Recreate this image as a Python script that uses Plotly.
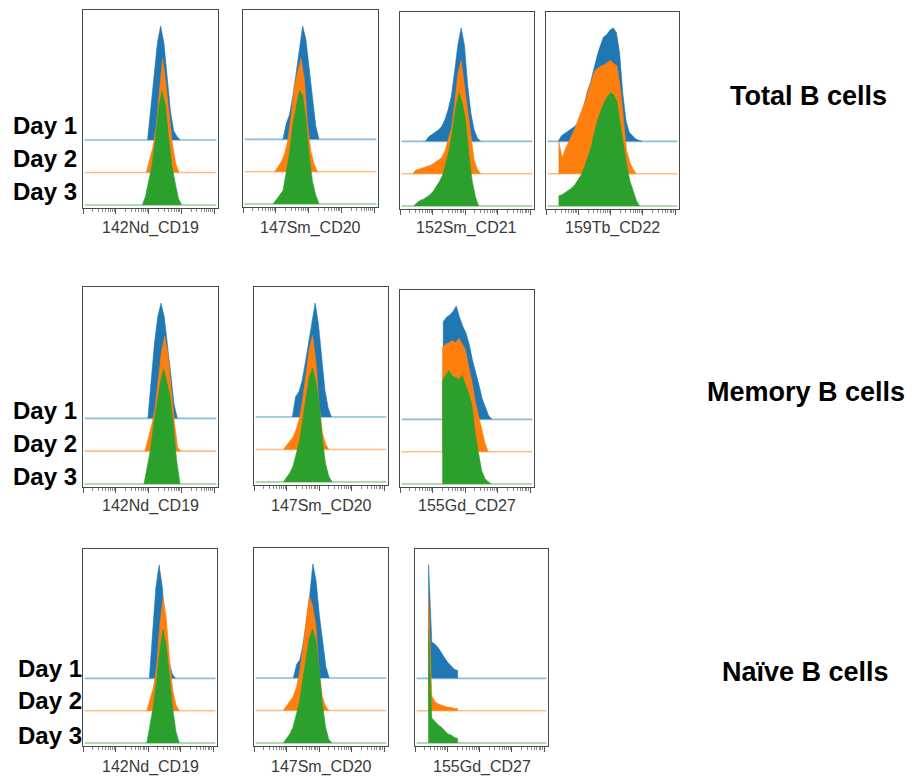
import plotly.graph_objects as go

# ---------------- data ----------------
STEP = 0.1  # bin width on the (log-decade) intensity axis
X_RANGE = [0.0, 4.12]
DAYS = ["Day 1", "Day 2", "Day 3"]
POPULATIONS = ["Total B cells", "Memory B cells", "Naïve B cells"]
MARKERS_TOTAL = ["142Nd_CD19", "147Sm_CD20", "152Sm_CD21", "159Tb_CD22"]
MARKERS_MEMORY = ["142Nd_CD19", "147Sm_CD20", "155Gd_CD27"]
MARKERS_NAIVE = ["142Nd_CD19", "147Sm_CD20", "155Gd_CD27"]

# histogram heights (% of mode); first bin starts at the matching *_X0 value
T_CD19_X0 = [1.97, 1.93, 1.81]
T_CD19_D1 = [0, 30, 58, 85, 100, 85, 55, 25, 8, 3, 0]
T_CD19_D2 = [0, 10, 22, 40, 68, 100, 78, 50, 25, 8, 0]
T_CD19_D3 = [0, 8, 22, 35, 58, 85, 100, 88, 60, 35, 20, 6, 0]

T_CD20_X0 = [1.22, 0.97, 0.92]
T_CD20_D1 = [0, 14, 22, 38, 58, 80, 100, 88, 62, 36, 12, 0]
T_CD20_D2 = [0, 4, 9, 16, 28, 50, 75, 88, 100, 82, 42, 18, 7, 0]
T_CD20_D3 = [0, 4, 8, 12, 28, 45, 70, 85, 100, 96, 75, 42, 20, 8, 0]

T_CD21_X0 = [0.78, 0.38, 0.42]
T_CD21_D1 = [0, 4, 6, 8, 10, 13, 19, 28, 40, 62, 85, 100, 85, 50, 25, 10, 3, 0]
T_CD21_D2 = [0, 3, 4, 5, 6, 7, 8, 10, 12, 14, 20, 30, 40, 62, 88, 100, 78, 55, 35, 12, 4, 0]
T_CD21_D3 = [0, 3, 5, 6, 8, 10, 13, 17, 22, 28, 38, 50, 68, 88, 100, 90, 75, 45, 22, 8, 0]

T_CD22_X0 = [0.38, 0.40, 0.40]
T_CD22_D1 = [0, 5, 7, 9, 11, 13, 16, 22, 32, 44, 52, 64, 75, 84, 92, 94, 98, 100, 96, 78, 42, 18, 8, 5, 2, 1, 0]
T_CD22_D2 = [28, 14, 22, 28, 34, 40, 48, 55, 63, 72, 82, 90, 93, 95, 96, 98, 100, 97, 95, 76, 45, 20, 10, 4, 0]
T_CD22_D3 = [9, 10, 12, 14, 16, 19, 23, 28, 35, 43, 52, 65, 76, 84, 91, 96, 100, 98, 92, 72, 52, 36, 22, 13, 5, 0]

M_CD19_X0 = [1.98, 1.89, 1.86]
M_CD19_D1 = [0, 35, 65, 88, 100, 88, 65, 38, 12, 0]
M_CD19_D2 = [0, 10, 22, 36, 62, 85, 100, 85, 55, 25, 3, 0]
M_CD19_D3 = [0, 14, 30, 52, 72, 88, 100, 88, 76, 50, 20, 0]

M_CD20_X0 = [1.18, 0.90, 0.90]
M_CD20_D1 = [0, 18, 22, 32, 48, 66, 85, 100, 82, 52, 24, 8, 0]
M_CD20_D2 = [0, 4, 7, 11, 18, 28, 45, 68, 88, 100, 78, 40, 15, 5, 0]
M_CD20_D3 = [0, 4, 8, 14, 25, 36, 55, 75, 92, 100, 88, 70, 38, 16, 5, 0]

M_CD27_X0 = [1.33, 1.31, 1.31]
M_CD27_D1 = [86, 90, 92, 95, 100, 90, 82, 76, 66, 52, 42, 30, 18, 10, 3, 0]
M_CD27_D2 = [92, 95, 96, 98, 96, 100, 95, 90, 75, 62, 45, 32, 18, 8, 0]
M_CD27_D3 = [92, 96, 100, 95, 94, 92, 96, 88, 80, 70, 45, 28, 12, 5, 2, 0]

N_CD19_X0 = [2.04, 1.96, 1.96]
N_CD19_D1 = [0, 42, 80, 100, 80, 42, 15, 4, 0]
N_CD19_D2 = [0, 10, 20, 38, 75, 100, 82, 45, 18, 5, 0]
N_CD19_D3 = [0, 18, 32, 55, 82, 100, 85, 58, 30, 10, 0]

N_CD20_X0 = [1.21, 0.90, 0.90]
N_CD20_D1 = [0, 12, 16, 30, 50, 72, 100, 85, 55, 32, 10, 0]
N_CD20_D2 = [0, 4, 8, 12, 20, 33, 55, 78, 100, 92, 75, 35, 12, 4, 0]
N_CD20_D3 = [0, 4, 8, 14, 25, 36, 56, 76, 92, 100, 90, 66, 35, 14, 3, 0]

N_CD27_X0 = [0.42, 0.42, 0.42]
N_CD27_D1 = [100, 32, 30, 27, 22, 18, 14, 11, 8, 7]
N_CD27_D2 = [100, 13, 8, 6, 5, 4, 3, 3, 2, 2]
N_CD27_D3 = [100, 22, 19, 16, 14, 11, 8, 7, 5, 4]

MAJOR_TICKS = [0, 1, 2, 3, 4]
MINOR_TICKS = [d + m for d in (0, 1, 2, 3) for m in (0.301, 0.477, 0.602, 0.699, 0.778, 0.845, 0.903, 0.954)]

# ---------------- styling / layout ----------------
W, H = 914, 778
DAY_COLORS = ["#1f77b4", "#ff7f0e", "#2ca02c"]
BASE_COLORS = ["#8dbbdc", "#ffbd84", "#92cf92"]
DAY_OFFSETS = [57, 28.5, 0]
Y_RANGE = [-2.6, 171]
FONT = "Arial, Liberation Sans, sans-serif"

# panel boxes in pixels: (left, right, top, bottom)
ROWS = [
    dict(pop=POPULATIONS[0], markers=MARKERS_TOTAL,
         hists=[(T_CD19_X0, [T_CD19_D1, T_CD19_D2, T_CD19_D3]),
                (T_CD20_X0, [T_CD20_D1, T_CD20_D2, T_CD20_D3]),
                (T_CD21_X0, [T_CD21_D1, T_CD21_D2, T_CD21_D3]),
                (T_CD22_X0, [T_CD22_D1, T_CD22_D2, T_CD22_D3])],
         boxes=[(83, 218, 10, 208), (243, 378, 10, 207), (400, 534, 12, 209), (546, 679, 12, 209)],
         label_y=228, day_x=11, day_y=[126, 158, 191], title_xy=(808, 96)),
    dict(pop=POPULATIONS[1], markers=MARKERS_MEMORY,
         hists=[(M_CD19_X0, [M_CD19_D1, M_CD19_D2, M_CD19_D3]),
                (M_CD20_X0, [M_CD20_D1, M_CD20_D2, M_CD20_D3]),
                (M_CD27_X0, [M_CD27_D1, M_CD27_D2, M_CD27_D3])],
         boxes=[(83, 218, 287, 487), (254, 388, 287, 485), (400, 534, 290, 487)],
         label_y=506, day_x=11, day_y=[411, 443, 476], title_xy=(806, 392)),
    dict(pop=POPULATIONS[2], markers=MARKERS_NAIVE,
         hists=[(N_CD19_X0, [N_CD19_D1, N_CD19_D2, N_CD19_D3]),
                (N_CD20_X0, [N_CD20_D1, N_CD20_D2, N_CD20_D3]),
                (N_CD27_X0, [N_CD27_D1, N_CD27_D2, N_CD27_D3])],
         boxes=[(83, 217, 549, 746), (254, 388, 548, 746), (415, 548, 549, 746)],
         label_y=767, day_x=16, day_y=[668, 700, 735], title_xy=(805, 672)),
]

fig = go.Figure()
annotations = []
k = 0
for row in ROWS:
    for (x0s, series), box, marker in zip(row["hists"], row["boxes"], row["markers"]):
        k += 1
        xa = "x" if k == 1 else f"x{k}"
        ya = "y" if k == 1 else f"y{k}"
        L, R, T, B = box
        for d in range(3):
            off = DAY_OFFSETS[d]
            # baseline
            fig.add_trace(go.Scatter(x=[X_RANGE[0] + 0.05, X_RANGE[1] - 0.05], y=[off, off],
                                     mode="lines", line=dict(color=BASE_COLORS[d], width=1.6),
                                     xaxis=xa, yaxis=ya, showlegend=False, hoverinfo="skip"))
            vals = series[d]
            x0 = x0s[d]
            xs = [x0 + i * STEP for i in range(len(vals))]
            px = [xs[0]] + xs + [xs[-1]]
            py = [off] + [off + v for v in vals] + [off]
            fig.add_trace(go.Scatter(x=px, y=py, mode="lines", fill="toself",
                                     fillcolor=DAY_COLORS[d],
                                     line=dict(color=DAY_COLORS[d], width=0.6),
                                     name=DAYS[d], xaxis=xa, yaxis=ya, showlegend=False))
        axkey = "xaxis" if k == 1 else f"xaxis{k}"
        aykey = "yaxis" if k == 1 else f"yaxis{k}"
        fig.layout[axkey] = dict(
            domain=[L / W, R / W], anchor=ya, range=X_RANGE,
            showline=True, mirror=True, linecolor="#4a4a4a", linewidth=1.3,
            showgrid=False, zeroline=False,
            tickmode="array", tickvals=MAJOR_TICKS, ticks="outside", ticklen=5,
            tickcolor="#555555", tickwidth=1.2, showticklabels=False,
            minor=dict(tickmode="array", tickvals=MINOR_TICKS, ticks="outside",
                       ticklen=3, tickcolor="#8a8a8a", tickwidth=1),
        )
        fig.layout[aykey] = dict(
            domain=[1 - B / H, 1 - T / H], anchor=xa, range=Y_RANGE,
            showline=True, mirror=True, linecolor="#4a4a4a", linewidth=1.3,
            showgrid=False, zeroline=False, showticklabels=False, ticks="",
        )
        annotations.append(dict(text=marker, xref="paper", yref="paper",
                                x=(L + R) / 2 / W, y=1 - row["label_y"] / H,
                                xanchor="center", yanchor="middle", showarrow=False,
                                font=dict(family=FONT, size=16, color="#3a3a3a")))
    for d in range(3):
        annotations.append(dict(text=f"<b>{DAYS[d]}</b>", xref="paper", yref="paper",
                                x=row["day_x"] / W, y=1 - row["day_y"][d] / H,
                                xanchor="left", yanchor="middle", showarrow=False,
                                font=dict(family=FONT, size=24, color="#000000")))
    tx, ty = row["title_xy"]
    annotations.append(dict(text=f"<b>{row['pop']}</b>", xref="paper", yref="paper",
                            x=tx / W, y=1 - ty / H, xanchor="center", yanchor="middle",
                            showarrow=False, font=dict(family=FONT, size=27, color="#000000")))

fig.update_layout(width=W, height=H, margin=dict(l=0, r=0, t=0, b=0),
                  paper_bgcolor="white", plot_bgcolor="white",
                  annotations=annotations, showlegend=False)
fig.write_html("out.html")
